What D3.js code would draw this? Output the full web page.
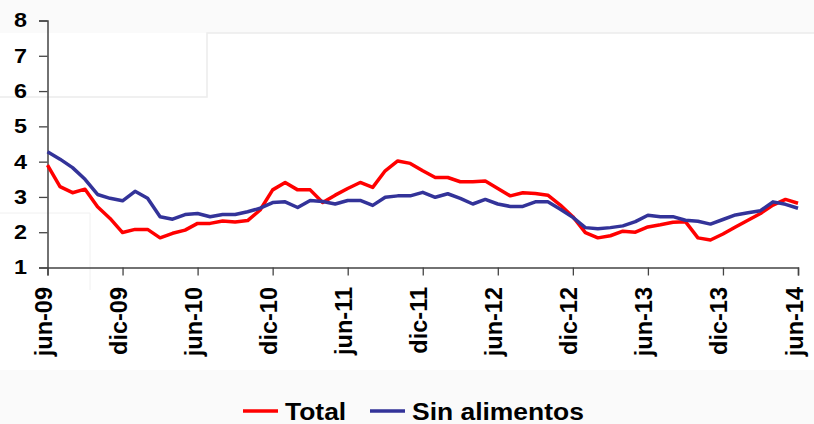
<!DOCTYPE html>
<html>
<head>
<meta charset="utf-8">
<script src="https://cdn.jsdelivr.net/npm/d3@7"></script>
<style>
  body { margin: 0; background: #fff; }
  svg { display: block; font-family: "Liberation Sans", Arial, sans-serif; font-weight: bold; }
</style>
</head>
<body>
<svg id="chart" width="814" height="424"></svg>
<script>
// monthly values, jun-09 .. jun-14
const months = ['jun-09','jul-09','ago-09','sep-09','oct-09','nov-09','dic-09','ene-10','feb-10','mar-10','abr-10','may-10',
  'jun-10','jul-10','ago-10','sep-10','oct-10','nov-10','dic-10','ene-11','feb-11','mar-11','abr-11','may-11',
  'jun-11','jul-11','ago-11','sep-11','oct-11','nov-11','dic-11','ene-12','feb-12','mar-12','abr-12','may-12',
  'jun-12','jul-12','ago-12','sep-12','oct-12','nov-12','dic-12','ene-13','feb-13','mar-13','abr-13','may-13',
  'jun-13','jul-13','ago-13','sep-13','oct-13','nov-13','dic-13','ene-14','feb-14','mar-14','abr-14','may-14','jun-14'];

const total = [3.9,3.29,3.12,3.22,2.72,2.39,1.99,2.08,2.08,1.84,1.97,2.06,
  2.25,2.25,2.32,2.29,2.33,2.63,3.2,3.41,3.2,3.2,2.84,3.05,
  3.24,3.41,3.27,3.74,4.02,3.95,3.74,3.55,3.55,3.43,3.43,3.45,
  3.24,3.03,3.12,3.1,3.05,2.77,2.44,1.99,1.84,1.9,2.03,2.0,
  2.15,2.21,2.28,2.3,1.84,1.78,1.95,2.15,2.34,2.53,2.77,2.93,2.82];

const sinAlimentos = [4.28,4.07,3.83,3.5,3.07,2.96,2.89,3.16,2.96,2.44,2.37,2.5,
  2.53,2.44,2.5,2.5,2.58,2.68,2.84,2.86,2.7,2.9,2.87,2.8,
  2.9,2.9,2.76,2.99,3.03,3.03,3.13,2.99,3.09,2.96,2.8,2.93,
  2.8,2.73,2.73,2.86,2.86,2.65,2.42,2.13,2.1,2.13,2.18,2.3,
  2.48,2.44,2.44,2.34,2.31,2.23,2.36,2.49,2.55,2.61,2.86,2.79,2.68];

const yTicks = [1,2,3,4,5,6,7,8];
const seriesNames = ['Total', 'Sin alimentos'];
const seriesColors = ['#ff0000', '#333399'];

const svg = d3.select('#chart');
const font = '"Liberation Sans", Arial, sans-serif';

// faint background panels seen in the original
svg.append('rect').attr('x', 0).attr('y', 0).attr('width', 814).attr('height', 33).attr('fill', '#fafafa');
svg.append('rect').attr('x', 0).attr('y', 370).attr('width', 814).attr('height', 54).attr('fill', '#fafafa');
svg.append('path').attr('d', 'M0,97H207V33H814').attr('fill', 'none').attr('stroke', '#ececec').attr('stroke-width', 1.5);
svg.append('path').attr('d', 'M0,213H90V290').attr('fill', 'none').attr('stroke', '#f0f0f0').attr('stroke-width', 1);

const x = d3.scaleLinear().domain([0, months.length - 1]).range([47.5, 798]);
const y = d3.scaleLinear().domain([1, 8]).range([267.5, 20.5]);

// y axis
const yAxis = svg.append('g')
  .attr('transform', 'translate(47.5,0)')
  .call(d3.axisLeft(y).tickValues(yTicks).tickSize(8.5).tickFormat(d3.format('d')));
yAxis.select('.domain').attr('stroke', '#444').attr('stroke-width', 1.5);
yAxis.selectAll('.tick line').attr('stroke', '#444').attr('stroke-width', 1.3);
yAxis.selectAll('text')
  .attr('font-size', 20).attr('font-weight', 'bold').attr('fill', '#000')
  .attr('font-family', font)
  .attr('x', 0)
  .attr('transform', 'translate(-20.5,0) scale(1.17,1)');

// x axis, a tick every 6 months
const xTickIdx = d3.range(0, months.length, 6);
const xAxis = svg.append('g')
  .attr('transform', 'translate(0,267.5)')
  .call(d3.axisBottom(x).tickValues(xTickIdx).tickSize(8).tickFormat(i => months[i]));
xAxis.select('.domain').attr('stroke', '#444').attr('stroke-width', 1.5);
xAxis.selectAll('.tick line').attr('stroke', '#444').attr('stroke-width', 1.3);
xAxis.selectAll('text')
  .attr('font-size', 23.5).attr('font-weight', 'bold').attr('fill', '#000')
  .attr('font-family', font)
  .attr('text-anchor', 'end')
  .attr('dy', '0.17em')
  .attr('transform', 'translate(0,19.5) rotate(-90)')
  .attr('x', 0).attr('y', 0);

// lines
const line = d3.line().x((d, i) => x(i)).y(d => y(d));
[total, sinAlimentos].forEach(function(s, k) {
  svg.append('path')
    .datum(s)
    .attr('fill', 'none')
    .attr('stroke', seriesColors[k])
    .attr('stroke-width', 3.5)
    .attr('stroke-linejoin', 'round')
    .attr('d', line);
});

// legend
const legendX = [243, 370];
seriesNames.forEach(function(name, k) {
  const g = svg.append('g').attr('transform', 'translate(' + legendX[k] + ',411)');
  g.append('line').attr('x1', 0).attr('x2', 35).attr('y1', 0).attr('y2', 0)
    .attr('stroke', seriesColors[k]).attr('stroke-width', 3.5);
  g.append('text')
    .attr('transform', 'translate(42,8.5) scale(1.15,1)')
    .attr('font-size', 23).attr('fill', '#000').text(name);
});
</script>
</body>
</html>
